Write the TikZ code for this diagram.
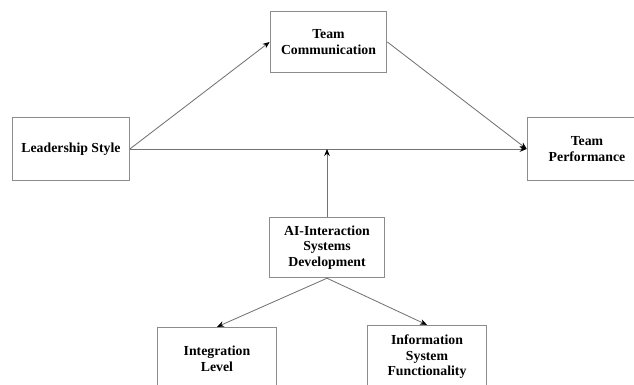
\documentclass[tikz,border=0pt]{standalone}
\usepackage{fontspec}
\setmainfont{Liberation Serif}
\usetikzlibrary{positioning}
\usetikzlibrary{arrows.meta}
\tikzstyle{cbox} = [draw=black!45, line width=0.7pt, fill=white, minimum height=43pt, align=center, font=\bfseries\fontsize{9.8}{11}\selectfont, inner sep=2pt]
\tikzstyle{arrow} = [draw=black!55, line width=0.6pt, -{Stealth[length=5pt,width=4pt,black]}]

\begin{document}
\begin{tikzpicture}[x=0.025cm, y=-0.025cm]
      \useasboundingbox (0,0) rectangle (634,385);
      \node[cbox, minimum width=83pt] (comm) at (328.5,42) {Team\\Communication};
      \node[cbox, minimum width=83pt, minimum height=45pt] (lead) at (71,149) {Leadership Style};
      \node[cbox, minimum width=85pt, minimum height=45pt] (perf) at (587,149) {Team\\Performance};
      \node[cbox, minimum width=82pt] (ai) at (327,247.5) {AI-Interaction\\Systems\\Development};
      \node[cbox, minimum width=85pt, minimum height=45pt] (integ) at (217,359) {Integration\\Level};
      \node[cbox, minimum width=85pt, minimum height=45pt] (infosys) at (427,357) {Information\\System\\Functionality};
      \coordinate (mid) at (327,149);
      \draw[arrow] (lead.east)--(comm.west);
      \draw[arrow] (comm.east)--(perf.west);
      \draw[arrow] (lead.east)--(perf.west);
      \draw[arrow] (ai.north)--(mid);
      \draw[arrow] (ai.south)--(integ.north);
      \draw[arrow] (ai.south)--(infosys.north);
\end{tikzpicture}
\end{document}
